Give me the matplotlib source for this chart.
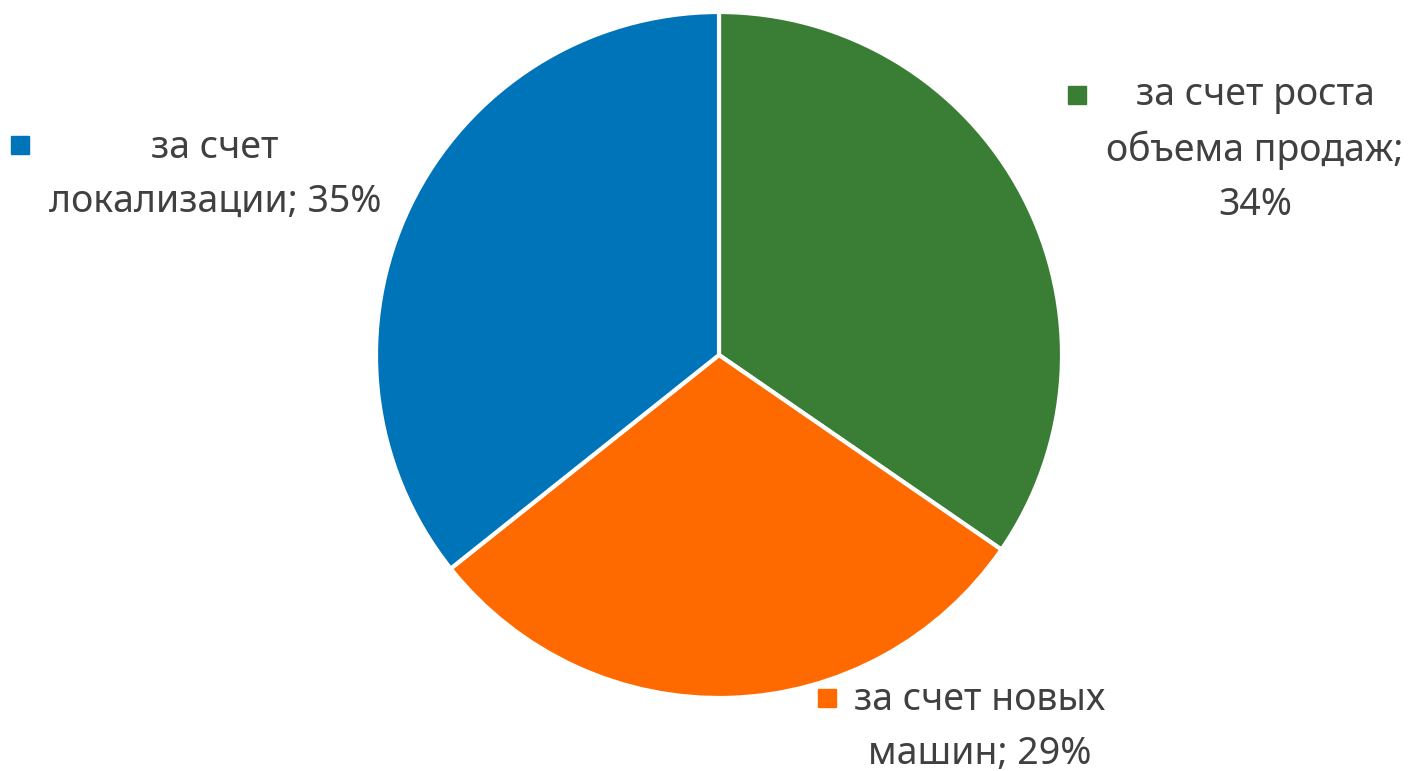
import matplotlib
matplotlib.use("Agg")
import matplotlib.pyplot as plt

# values; labels as printed on the chart
categories = ["за счет роста\nобъема продаж;\n34%", "за счет новых\nмашин; 29%", "за счет\nлокализации; 35%"]
shares = [34.6, 29.7, 35.7]
colors = ["#3A7E35", "#FF6A00", "#0074B8"]

# label layout (data units, pie radius = 1)
label_pos = [(1.563, 0.598), (0.761, -1.085), (-1.469, 0.525)]
key_pos = [(1.044, 0.758), (0.315, -1.0), (-2.038, 0.612)]

plt.rcParams["font.family"] = ["Noto Sans", "DejaVu Sans"]

W, H = 1410, 771
cx, cy, r = 719, 355, 343
fig = plt.figure(figsize=(W / 100, H / 100), dpi=100)
ax = fig.add_axes([0, 0, 1, 1])

ax.pie(shares, colors=colors, startangle=90, counterclock=False,
       radius=1, center=(0, 0),
       wedgeprops=dict(edgecolor="white", linewidth=3))

for (lx, ly), (kx, ky), txt, c in zip(label_pos, key_pos, categories, colors):
    ax.text(lx, ly, txt, ha="center", va="center", multialignment="center",
            fontsize=27, color="#404040", linespacing=1.55)
    ax.plot(kx, ky, marker="s", markersize=13, color=c, linestyle="none")

ax.set_xlim(-cx / r, (W - cx) / r)
ax.set_ylim(-(H - cy) / r, cy / r)
ax.set_aspect("auto")
ax.axis("off")

fig.savefig("out.png", dpi=100, facecolor="white")
